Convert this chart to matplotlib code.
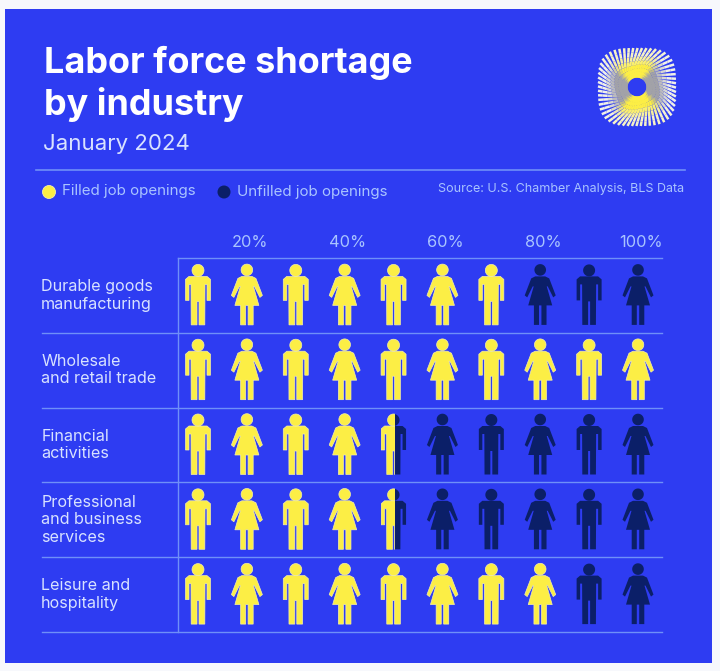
import numpy as np
import matplotlib
matplotlib.use("Agg")
import matplotlib.pyplot as plt
from matplotlib.colors import to_rgb
from matplotlib.patches import Polygon, Rectangle, Circle
from matplotlib.collections import LineCollection
from matplotlib.transforms import ScaledTranslation

plt.rcParams['font.family'] = ['Inter', 'DejaVu Sans']

W, H = 720, 671
BLUE = '#2e3cf2'
YELLOW = '#fcee45'
NAVY = '#0b1f68'
RULE = '#6f8ff8'
PALE = '#d8e2ff'
SOFT = '#a9c4ff'

title_lines = ['Labor force shortage', 'by industry']
subtitle = 'January 2024'
source = 'Source: U.S. Chamber Analysis, BLS Data'
legend_labels = ['Filled job openings', 'Unfilled job openings']
categories = ['Durable goods\nmanufacturing', 'Wholesale\nand retail trade', 'Financial\nactivities',
              'Professional\nand business\nservices', 'Leisure and\nhospitality']
filled_pct = [70, 100, 45.5, 45.5, 80]
tick_values = [20, 40, 60, 80, 100]

fig = plt.figure(figsize=(W / 100, H / 100), dpi=100, facecolor='#f7f8fc')

bg = fig.add_axes([0, 0, 1, 1])
bg.set_xlim(0, W); bg.set_ylim(H, 0); bg.axis('off')
bg.add_patch(Rectangle((5, 9), 707, 654, fc=BLUE, ec='none'))

# Titles
bg.text(44, 63, title_lines[0], color='white', fontsize=25.9, fontweight='bold', va='center', ha='left')
bg.text(44, 105, title_lines[1], color='white', fontsize=25.9, fontweight='bold', va='center', ha='left')
bg.text(43, 144.5, subtitle, color=PALE, fontsize=16, va='center', ha='left')
bg.plot([36, 685], [170, 170], color=RULE, lw=1.2)

# Legend and source
bg.add_patch(Circle((49, 192), 6.5, fc=YELLOW, ec='#f4efa8', lw=0.6))
bg.text(62, 191.5, legend_labels[0], color=SOFT, fontsize=10.9, va='center', ha='left')
bg.add_patch(Circle((224, 192), 6.5, fc=NAVY, ec='none'))
bg.text(237, 192, legend_labels[1], color=SOFT, fontsize=10.9, va='center', ha='left')
bg.text(684, 189, source, color=SOFT, fontsize=9, va='center', ha='right')

# Logo: straight spokes tangent to the hole, coloured by sector and radius
cx, cy = 637, 87
c_yellow = np.array(to_rgb(YELLOW))
c_cream = np.array(to_rgb('#f6f3c8'))
c_grey = np.array(to_rgb('#a2a2a8'))
c_white = np.array(to_rgb('#f0f0e8'))
segs, cols = [], []
for a in np.linspace(0, 2 * np.pi, 56, endpoint=False):
    b = a + 1.25
    n = 3.4
    r_out = 39 / (abs(np.cos(b)) ** n + abs(np.sin(b)) ** n) ** (1 / n)
    p0 = np.array([cx + 10.5 * np.cos(a), cy + 10.5 * np.sin(a)])
    p1 = np.array([cx + r_out * np.cos(b), cy + r_out * np.sin(b)])
    ts = np.linspace(0, 1, 9)
    for t0, t1 in zip(ts[:-1], ts[1:]):
        q0, q1 = p0 + (p1 - p0) * t0, p0 + (p1 - p0) * t1
        m = (q0 + q1) / 2 - [cx, cy]
        theta = np.arctan2(m[1], m[0])
        tm = (t0 + t1) / 2
        sector = np.clip(0.5 + 1.6 * np.cos(2 * (theta + np.radians(95))), 0, 1)
        outer = np.clip((tm - 0.45) / 0.35, 0, 1)
        inner_c = sector * c_yellow + (1 - sector) * c_grey
        outer_c = sector * c_cream + (1 - sector) * c_white
        segs.append([q0, q1])
        cols.append(tuple((1 - outer) * inner_c + outer * outer_c))
bg.add_collection(LineCollection(segs, colors=cols, linewidths=1.8, capstyle='butt'))

# Pictogram grid rules
left, right, top, bottom = 178, 662, 258, 632
row_px = (bottom - top) / len(categories)
for i in range(len(categories) + 1):
    bg.plot([42 if i else 178, 662], [top + i * row_px] * 2, color=RULE, lw=1.0)
bg.plot([left, left], [top, bottom], color=RULE, lw=1.0)

# Pictogram axes: x in percent, y in rows
ax = fig.add_axes([left / W, 1 - bottom / H, (right - left) / W, (bottom - top) / H])
ax.patch.set_alpha(0)
px_per_pct = (638 - 198) / 90
x0 = 10 - (198 - left) / px_per_pct
ax.set_xlim(x0, x0 + (right - left) / px_per_pct)
ax.set_ylim(len(categories), 0)
for s in ax.spines.values():
    s.set_visible(False)
ax.xaxis.tick_top()
ax.set_xticks(tick_values)
ax.set_xticklabels([f'{v}%' for v in tick_values], color=SOFT, fontsize=11.8)
ax.set_yticks(np.arange(len(categories)) + 0.5)
ax.set_yticklabels(categories, color=PALE, fontsize=11.6, ha='left', va='center', linespacing=1.2)
ax.tick_params(axis='x', length=0, pad=5.5)
ax.tick_params(axis='y', length=0, pad=98.5)
shift = ScaledTranslation(3 / 100, 0, fig.dpi_scale_trans)
for lab in ax.get_xticklabels():
    lab.set_transform(lab.get_transform() + shift)

head = np.linspace(0, 2 * np.pi, 40, endpoint=False)
def mirror(half):
    half = np.array(half, float)
    return np.vstack([half, (half * [-1, 1])[::-1]])
man_body = mirror([(0, -19), (9, -19), (12.5, -16), (12.5, 5), (9, 5), (9, -11), (7, -11),
                   (6.8, 29.5), (1, 29.5), (1, 6), (0, 6)])
woman_body = mirror([(0, -19), (5, -19), (9, -17), (15.5, 0), (13, 2), (7.5, -9), (6.5, -9),
                     (12, 10), (6.3, 10), (6.3, 29.5), (1.2, 29.5), (1.2, 10), (0, 10)])
man_head = np.c_[6.0 * np.cos(head), -25.0 + 6.0 * np.sin(head)]
woman_head = np.c_[5.8 * np.cos(head), -25.5 + 5.8 * np.sin(head)]

def to_data(shape, xc, yc):
    return np.c_[xc + shape[:, 0] / px_per_pct, yc + shape[:, 1] / row_px]

for r, pct in enumerate(filled_pct):
    for i in range(10):
        xc = 10 * (i + 1)
        yc = r + 0.5
        shapes = (man_body, man_head) if i % 2 == 0 else (woman_body, woman_head)
        fill = float(np.clip(pct / 10 - i, 0, 1))
        half = 12.3 / px_per_pct
        for sh in shapes:
            verts = to_data(sh, xc, yc)
            if fill < 1:
                ax.add_patch(Polygon(verts, closed=True, fc=NAVY, ec='none', zorder=2))
            if fill > 0:
                p = Polygon(verts, closed=True, fc=YELLOW, ec='#f4efa8', lw=0.5, zorder=3)
                ax.add_patch(p)
                if fill < 1:
                    clip = Rectangle((xc - half, r), 2 * half * fill, 1, transform=ax.transData)
                    p.set_clip_path(clip)

fig.savefig('out.png', dpi=100, facecolor=fig.get_facecolor())
